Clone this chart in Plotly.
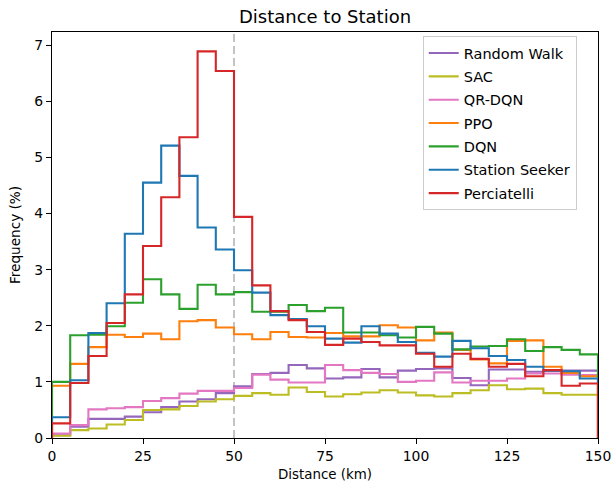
import numpy as np
import plotly.graph_objects as go

bin_edges = list(range(0, 155, 5))  # km

series_names = ["Random Walk", "SAC", "QR-DQN", "PPO", "DQN", "Station Seeker", "Perciatelli"]

random_walk = [0.05, 0.20, 0.34, 0.34, 0.38, 0.46, 0.55, 0.65, 0.69, 0.80,
               0.92, 1.14, 1.16, 1.30, 1.24, 1.06, 1.08, 1.23, 1.08, 1.20,
               1.23, 1.24, 1.07, 0.94, 1.22, 1.22, 1.18, 1.20, 1.20, 1.20]
sac = [0.04, 0.14, 0.17, 0.24, 0.32, 0.50, 0.51, 0.57, 0.65, 0.69,
       0.75, 0.80, 0.77, 0.90, 0.82, 0.74, 0.78, 0.81, 0.85, 0.81,
       0.76, 0.74, 0.80, 0.85, 0.94, 0.87, 0.88, 0.80, 0.77, 0.77]
qr_dqn = [0.08, 0.23, 0.51, 0.53, 0.55, 0.66, 0.71, 0.79, 0.84, 0.84,
          0.89, 1.13, 1.04, 0.99, 0.99, 1.30, 1.21, 1.16, 1.14, 1.00,
          1.02, 1.17, 0.99, 1.02, 1.02, 1.06, 1.15, 1.15, 1.13, 1.12]
ppo = [0.93, 1.32, 1.62, 1.84, 1.80, 1.86, 1.76, 2.08, 2.10, 1.97,
       1.85, 1.76, 1.89, 1.80, 1.79, 1.87, 1.81, 1.81, 2.01, 1.97,
       1.74, 1.88, 1.57, 1.40, 1.33, 1.73, 1.74, 1.27, 1.16, 1.10]
dqn = [1.00, 1.83, 1.84, 1.99, 2.41, 2.83, 2.56, 2.30, 2.73, 2.56,
       2.60, 2.25, 2.25, 2.37, 2.26, 2.32, 1.88, 1.88, 1.83, 1.79,
       1.98, 1.86, 1.58, 1.63, 1.64, 1.76, 1.55, 1.62, 1.57, 1.49]
station_seeker = [0.37, 1.03, 1.87, 2.40, 3.64, 4.55, 5.21, 4.67, 3.75, 3.36,
                  2.99, 2.59, 2.19, 2.12, 1.99, 1.77, 1.70, 1.99, 1.86, 1.71,
                  1.52, 1.45, 1.73, 1.60, 1.46, 1.39, 1.27, 1.20, 1.19, 1.06]
perciatelli = [0.26, 0.98, 1.46, 2.05, 2.56, 3.42, 4.29, 5.36, 6.89, 6.54,
               3.94, 2.72, 2.26, 2.10, 1.89, 1.66, 1.77, 1.71, 1.65, 1.65,
               1.50, 1.27, 1.50, 1.41, 1.27, 1.32, 1.10, 1.21, 0.93, 0.97]

all_values = [random_walk, sac, qr_dqn, ppo, dqn, station_seeker, perciatelli]
colors = ["#9467bd", "#bcbd22", "#e377c2", "#ff7f0e", "#2ca02c", "#1f77b4", "#d62728"]

x_ticks = [0, 25, 50, 75, 100, 125, 150]
y_ticks = [0, 1, 2, 3, 4, 5, 6, 7]
threshold_km = 50

FONT = "DejaVu Sans"

fig = go.Figure()
for name, vals, col in zip(series_names, all_values, colors):
    # step outline like matplotlib histtype='step'
    xs = [bin_edges[0]] + bin_edges[:-1] + [bin_edges[-1]]
    ys = [0] + list(vals) + [0]
    fig.add_trace(go.Scatter(
        x=xs, y=ys, mode="lines", name=name, legendgroup=name,
        line=dict(color=col, width=2.1, shape="hv"),
        hoverinfo="skip",
    ))

ymax = max(max(v) for v in all_values) * 1.05

fig.add_shape(type="line", x0=threshold_km, x1=threshold_km, y0=0, y1=1,
              xref="x", yref="paper",
              line=dict(color="#c4c4c4", width=2, dash="8px,4px"), layer="below")

fig.update_layout(
    width=613, height=489,
    margin=dict(l=51.5, r=14.7, t=31.7, b=50.7),
    paper_bgcolor="white", plot_bgcolor="white",
    font=dict(family=FONT, size=13.9, color="black"),
    title=dict(text="Distance to Station", x=0.5, xref="paper", xanchor="center",
               y=0.966, yref="container", yanchor="middle",
               font=dict(size=18, family=FONT, color="black")),
    showlegend=True,
    legend=dict(x=0.679, y=0.99, xanchor="left", yanchor="top",
                bgcolor="white", bordercolor="#cccccc", borderwidth=1,
                font=dict(size=14.5, family=FONT), tracegroupgap=1.5,
                traceorder="grouped"),
    xaxis=dict(range=[0, 150], tickvals=x_ticks, ticks="outside", ticklen=5,
               tickwidth=1.1, tickcolor="black", showline=True, linecolor="black",
               linewidth=1.1, mirror=True, showgrid=False, zeroline=False,
               automargin=False,
               title=dict(text="Distance (km)", standoff=6, font=dict(size=13.4)),
               tickfont=dict(size=13.9)),
    yaxis=dict(range=[0, ymax], tickvals=y_ticks, ticks="outside", ticklen=5,
               tickwidth=1.1, tickcolor="black", showline=True, linecolor="black",
               linewidth=1.1, mirror=True, showgrid=False, zeroline=False,
               automargin=False,
               title=dict(text="Frequency (%)", standoff=10, font=dict(size=13.6)),
               tickfont=dict(size=13.9)),
)

fig.write_html(
    "out.html",
    config={"displayModeBar": False},
    post_script="document.body.style.margin='0';document.body.style.overflow='hidden';",
)
